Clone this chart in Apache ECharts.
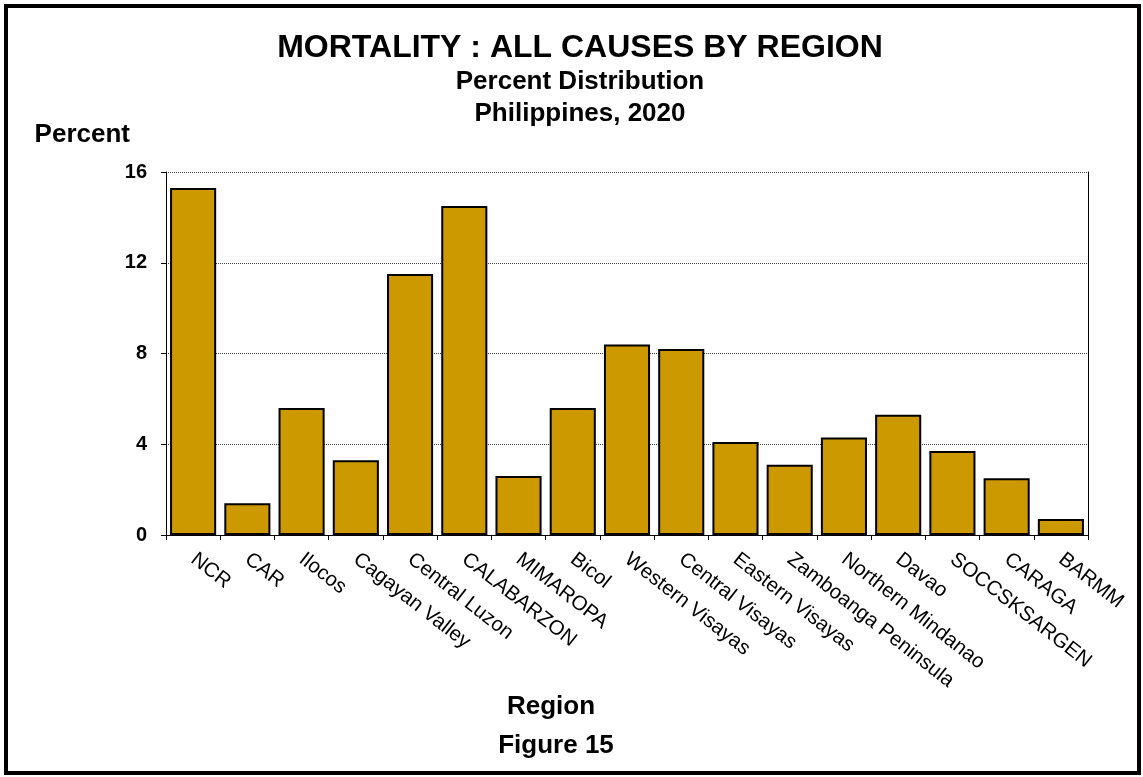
<!DOCTYPE html>
<html>
<head>
<meta charset="utf-8">
<script src="https://cdn.jsdelivr.net/npm/echarts@6/dist/echarts.min.js"></script>
<style>
html,body{margin:0;padding:0;background:#fff;}
#chart{width:1143px;height:777px;}
</style>
</head>
<body>
<div id="chart"></div>
<script>
const regions = ["NCR","CAR","Ilocos","Cagayan Valley","Central Luzon","CALABARZON","MIMAROPA","Bicol","Western Visayas","Central Visayas","Eastern Visayas","Zamboanga Peninsula","Northern Mindanao","Davao","SOCCSKSARGEN","CARAGA","BARMM"];
const percent = [15.3,1.4,5.6,3.3,11.5,14.5,2.6,5.6,8.4,8.2,4.1,3.1,4.3,5.3,3.7,2.5,0.7];
const yTicks = [0,4,8,12,16];

const FONT = 'Liberation Sans, Arial, sans-serif';
const chart = echarts.init(document.getElementById('chart'), null, {renderer:'canvas'});
chart.setOption({
  backgroundColor:'#fff',
  animation:false,
  textStyle:{fontFamily:FONT},
  title:[
    {text:'MORTALITY : ALL CAUSES BY REGION', left:575, top:27, textAlign:'center',
     textStyle:{fontFamily:FONT,fontSize:32,fontWeight:'bold',color:'#000'}},
    {text:'Percent Distribution', left:575, top:64, textAlign:'center',
     textStyle:{fontFamily:FONT,fontSize:26,fontWeight:'bold',color:'#000'}},
    {text:'Philippines, 2020', left:575, top:96, textAlign:'center',
     textStyle:{fontFamily:FONT,fontSize:26,fontWeight:'bold',color:'#000'}},
    {text:'Figure 15', left:551, top:728, textAlign:'center',
     textStyle:{fontFamily:FONT,fontSize:26,fontWeight:'bold',color:'#000'}}
  ],
  graphic:[
    {type:'rect', shape:{x:6,y:6,width:1133,height:767}, style:{fill:'none',stroke:'#000',lineWidth:4}, z:100}
  ],
  grid:{left:166, right:55, top:172, bottom:242, containLabel:false},
  xAxis:{
    type:'category', data:regions,
    name:'Region', nameLocation:'middle', nameGap:149,
    nameTextStyle:{fontFamily:FONT,fontSize:26,fontWeight:'bold',color:'#000',padding:[0,152,0,0]},
    axisLine:{lineStyle:{color:'#000',width:1}},
    axisTick:{show:true,length:5,lineStyle:{color:'#000'}},
    axisLabel:{rotate:-38,margin:22,fontFamily:FONT,fontSize:20.5,color:'#000',interval:0}
  },
  yAxis:[{
    type:'value', min:0, max:16, interval:4,
    name:'Percent', nameLocation:'end', nameGap:24,
    nameTextStyle:{fontFamily:FONT,fontSize:26,fontWeight:'bold',color:'#000',align:'right',padding:[0,36,0,0]},
    axisLine:{show:true,lineStyle:{color:'#000',width:1}},
    axisTick:{show:true,length:5,lineStyle:{color:'#000'}},
    axisLabel:{margin:19,fontFamily:FONT,fontSize:20,fontWeight:'bold',color:'#000',
      formatter:function(v){return yTicks.indexOf(v)>=0?String(v):'';}},
    splitLine:{show:true,lineStyle:{color:'#444',type:[1,1],width:1}}
  },{
    type:'value', min:0, max:16, interval:4, position:'right',
    axisLine:{show:true,lineStyle:{color:'#000',width:1}},
    axisTick:{show:false}, axisLabel:{show:false}, splitLine:{show:false}
  }],
  series:[{
    type:'bar', data:percent, barCategoryGap:'15%',
    itemStyle:{color:'#CC9900',borderColor:'#000',borderWidth:2},
    emphasis:{disabled:true}
  }]
});
</script>
</body>
</html>
